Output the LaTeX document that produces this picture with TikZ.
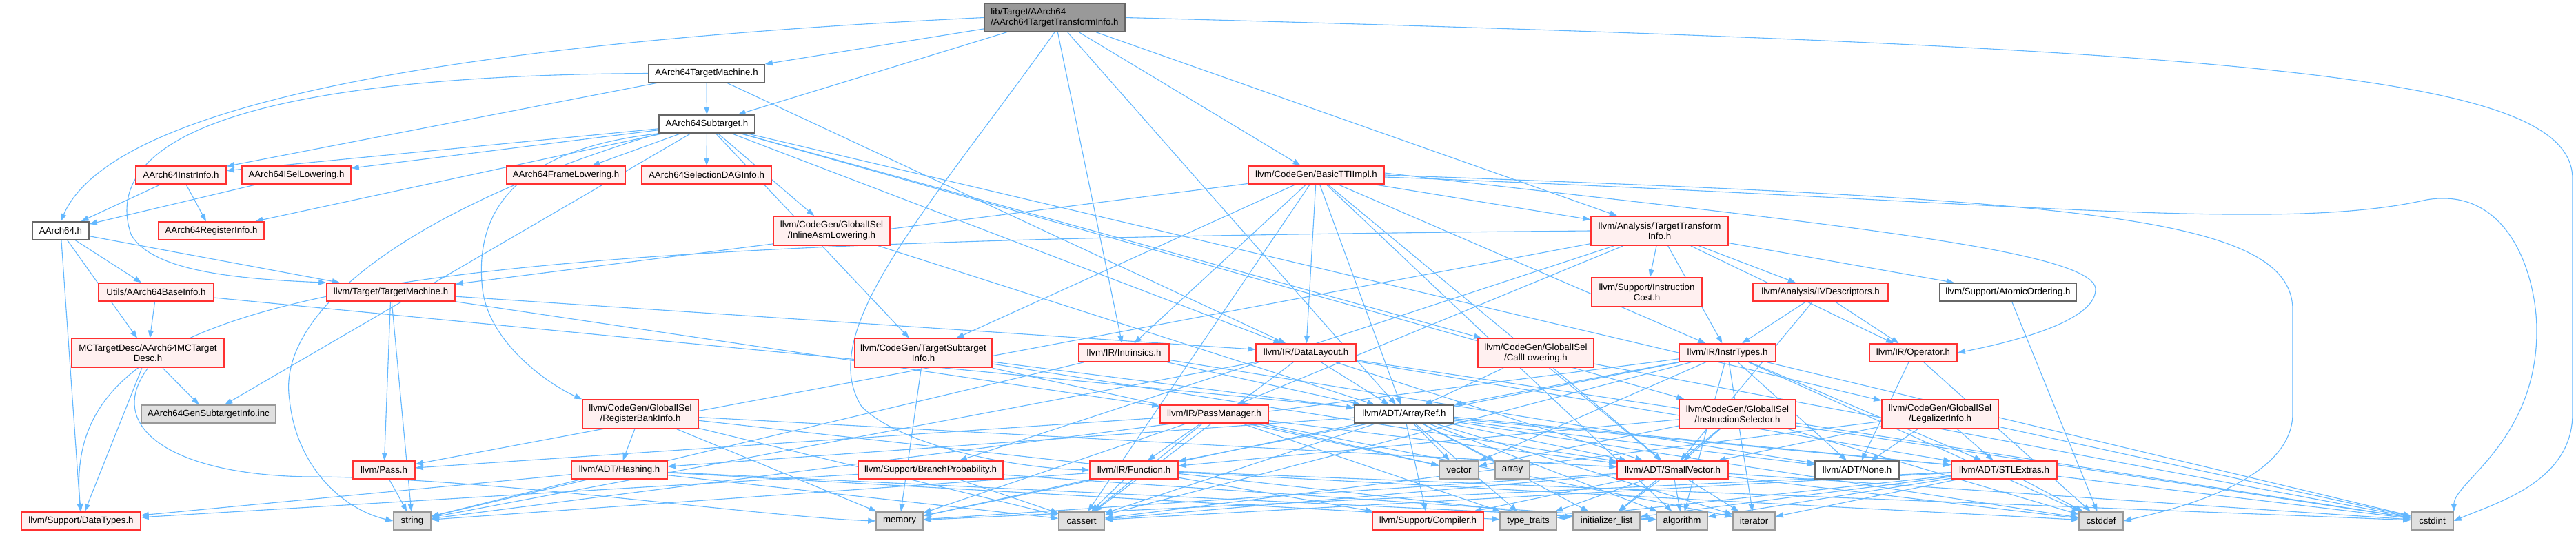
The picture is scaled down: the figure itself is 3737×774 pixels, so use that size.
\documentclass[tikz,border=0pt]{standalone}
\usepackage{fontspec}
\setmainfont{Liberation Sans}
\usetikzlibrary{arrows.meta,backgrounds}
\definecolor{edgec}{HTML}{63B8FF}
\definecolor{redb}{HTML}{FF3030}
\definecolor{redf}{HTML}{FFF0F0}
\definecolor{grayf}{HTML}{E0E0E0}
\definecolor{grayb}{HTML}{999999}
\definecolor{mainf}{HTML}{999999}
\definecolor{mainb}{HTML}{666666}
\tikzset{
 base/.style={draw, line width=1.6pt, inner sep=0pt, font=\fontsize{13.3}{15}\selectfont, align=center},
 rbox/.style={base, draw=redb, fill=redf},
 gbox/.style={base, draw=grayb, fill=grayf},
 wbox/.style={base, draw=mainb, fill=white},
 mbox/.style={base, draw=mainb, fill=mainf, align=left},
 edge/.style={draw=edgec, line width=1.1pt, -{Triangle[length=11pt,width=8pt]}},
}
\begin{document}
\begin{tikzpicture}[x=1pt,y=-1pt]
\useasboundingbox (0,0) rectangle (3737,774);
% row 0
\node[mbox, minimum width=204pt, minimum height=41pt] (main) at (1530,25.5) {lib/Target/AArch64\\/AArch64TargetTransformInfo.h};
\node[wbox, minimum width=168pt, minimum height=26pt] (tm) at (1025,106.5) {AArch64TargetMachine.h};
\node[wbox, minimum width=139pt, minimum height=26pt] (sub) at (1025.5,180) {AArch64Subtarget.h};
% row 254
\node[rbox, minimum width=131pt, minimum height=26pt] (instr) at (262.5,254) {AArch64InstrInfo.h};
\node[rbox, minimum width=158pt, minimum height=26pt] (isel) at (430,254) {AArch64ISelLowering.h};
\node[rbox, minimum width=172pt, minimum height=26pt] (frame) at (821,254) {AArch64FrameLowering.h};
\node[rbox, minimum width=188pt, minimum height=26pt] (sdag) at (1025,254) {AArch64SelectionDAGInfo.h};
\node[rbox, minimum width=197pt, minimum height=26pt] (basictti) at (1909.5,254) {llvm/CodeGen/BasicTTIImpl.h};
% row 335
\node[wbox, minimum width=82pt, minimum height=26pt] (aarch64) at (88,335) {AArch64.h};
\node[rbox, minimum width=153pt, minimum height=26pt] (reginfo) at (306.5,335) {AArch64RegisterInfo.h};
\node[rbox, minimum width=169pt, minimum height=42pt] (inlineasm) at (1206.5,335) {llvm/CodeGen/GlobalISel\\/InlineAsmLowering.h};
\node[rbox, minimum width=199pt, minimum height=42pt] (tti) at (2407.5,335) {llvm/Analysis/TargetTransform\\Info.h};
% row 424
\node[rbox, minimum width=167pt, minimum height=26pt] (baseinfo) at (226.5,424) {Utils/AArch64BaseInfo.h};
\node[rbox, minimum width=186pt, minimum height=26pt] (ttm) at (567,424) {llvm/Target/TargetMachine.h};
\node[rbox, minimum width=160pt, minimum height=42pt] (icost) at (2389,424) {llvm/Support/Instruction\\Cost.h};
\node[rbox, minimum width=196pt, minimum height=26pt] (ivdesc) at (2641,424) {llvm/Analysis/IVDescriptors.h};
\node[wbox, minimum width=198pt, minimum height=26pt] (atomic) at (2913,424) {llvm/Support/AtomicOrdering.h};
% row 512
\node[rbox, minimum width=221pt, minimum height=42pt] (mctd) at (214.5,512.5) {MCTargetDesc/AArch64MCTarget\\Desc.h};
\node[rbox, minimum width=199pt, minimum height=42pt] (tsi) at (1339.5,512.5) {llvm/CodeGen/TargetSubtarget\\Info.h};
\node[rbox, minimum width=131pt, minimum height=26pt] (intrin) at (1630.5,512) {llvm/IR/Intrinsics.h};
\node[rbox, minimum width=145pt, minimum height=26pt] (dl) at (1894.5,512) {llvm/IR/DataLayout.h};
\node[rbox, minimum width=168pt, minimum height=42pt] (calllow) at (2228,512.5) {llvm/CodeGen/GlobalISel\\/CallLowering.h};
\node[rbox, minimum width=140pt, minimum height=26pt] (instrtypes) at (2506,512) {llvm/IR/InstrTypes.h};
\node[rbox, minimum width=127pt, minimum height=26pt] (operator) at (2775.5,512) {llvm/IR/Operator.h};
% row 601
\node[gbox, minimum width=195pt, minimum height=26pt] (gensub) at (302.5,601) {AArch64GenSubtargetInfo.inc};
\node[rbox, minimum width=168pt, minimum height=42pt] (rbi) at (929,601) {llvm/CodeGen/GlobalISel\\/RegisterBankInfo.h};
\node[rbox, minimum width=157pt, minimum height=26pt] (pm) at (1761.5,601) {llvm/IR/PassManager.h};
\node[wbox, minimum width=144pt, minimum height=26pt] (arrayref) at (2037,601) {llvm/ADT/ArrayRef.h};
\node[rbox, minimum width=169pt, minimum height=42pt] (isel2) at (2520.5,601) {llvm/CodeGen/GlobalISel\\/InstructionSelector.h};
\node[rbox, minimum width=169pt, minimum height=42pt] (legal) at (2814.5,601) {llvm/CodeGen/GlobalISel\\/LegalizerInfo.h};
% row 682
\node[rbox, minimum width=90pt, minimum height=26pt] (pass) at (557,682) {llvm/Pass.h};
\node[rbox, minimum width=139pt, minimum height=26pt] (hashing) at (898.5,682) {llvm/ADT/Hashing.h};
\node[rbox, minimum width=210pt, minimum height=26pt] (bp) at (1350,682) {llvm/Support/BranchProbability.h};
\node[rbox, minimum width=128pt, minimum height=26pt] (function) at (1645,682) {llvm/IR/Function.h};
\node[gbox, minimum width=57pt, minimum height=26pt] (vector) at (2116.5,682) {vector};
\node[gbox, minimum width=50pt, minimum height=26pt] (array) at (2194,682) {array};
\node[rbox, minimum width=161pt, minimum height=26pt] (smallvec) at (2426.5,682) {llvm/ADT/SmallVector.h};
\node[wbox, minimum width=122pt, minimum height=26pt] (none) at (2694,682) {llvm/ADT/None.h};
\node[rbox, minimum width=153pt, minimum height=26pt] (stlextras) at (2907.5,682) {llvm/ADT/STLExtras.h};
% row 756
\node[rbox, minimum width=173pt, minimum height=26pt] (datatypes) at (117.5,756) {llvm/Support/DataTypes.h};
\node[gbox, minimum width=54pt, minimum height=26pt] (string) at (598,756) {string};
\node[gbox, minimum width=68pt, minimum height=26pt] (memory) at (1305,756) {memory};
\node[gbox, minimum width=66pt, minimum height=26pt] (cassert) at (1569,756) {cassert};
\node[rbox, minimum width=161pt, minimum height=26pt] (compiler) at (2071.5,756) {llvm/Support/Compiler.h};
\node[gbox, minimum width=82pt, minimum height=26pt] (typetraits) at (2217,756) {type\_traits};
\node[gbox, minimum width=97pt, minimum height=26pt] (initlist) at (2330.5,756) {initializer\_list};
\node[gbox, minimum width=74pt, minimum height=26pt] (algorithm) at (2440,756) {algorithm};
\node[gbox, minimum width=61pt, minimum height=26pt] (iterator) at (2544.5,756) {iterator};
\node[gbox, minimum width=64pt, minimum height=26pt] (cstddef) at (3048,756) {cstddef};
\node[gbox, minimum width=61pt, minimum height=26pt] (cstdint) at (3528.5,756) {cstdint};

\begin{pgfonlayer}{background}
\fill[white] (0,0) rectangle (3737,774);
\foreach \a/\b in {main/sub, main/tm, main/arrayref, main/tti, main/basictti, main/intrin,
 tm/instr, tm/sub, tm/dl,
 sub/frame, sub/isel, sub/instr, sub/reginfo, sub/sdag, sub/calllow, sub/inlineasm, sub/isel2, sub/legal, sub/tsi, sub/dl, sub/gensub,
 instr/aarch64, instr/reginfo, isel/aarch64,
 aarch64/datatypes, aarch64/mctd, aarch64/baseinfo, aarch64/ttm,
 baseinfo/mctd, baseinfo/stlextras,
 mctd/datatypes, mctd/gensub,
 ttm/dl, ttm/pm, ttm/pass, ttm/string,
 pass/string,
 rbi/hashing, rbi/smallvec, rbi/cassert, rbi/initlist, rbi/memory,
 hashing/datatypes, hashing/string, hashing/cassert, hashing/algorithm, hashing/typetraits,
 bp/datatypes, bp/algorithm, bp/cassert,
 function/memory, function/cassert, function/compiler, function/cstddef, function/cstdint, function/string,
 pm/function, pm/cassert, pm/smallvec, pm/memory, pm/vector, pm/iterator, pm/typetraits, pm/pass,
 intrin/arrayref, intrin/none, intrin/string,
 instrtypes/arrayref, instrtypes/none, instrtypes/stlextras, instrtypes/function, instrtypes/algorithm, instrtypes/cassert, instrtypes/cstddef, instrtypes/cstdint, instrtypes/iterator, instrtypes/string, instrtypes/vector,
 operator/none, operator/cstddef,
 ivdesc/smallvec, ivdesc/instrtypes, ivdesc/operator,
 atomic/cstddef,
 tti/ivdesc, tti/instrtypes, tti/pm, tti/pass, tti/atomic, tti/bp, tti/icost, tti/operator,
 basictti/arrayref, basictti/smallvec, basictti/tti, basictti/tsi, basictti/dl, basictti/instrtypes, basictti/intrin, basictti/ttm, basictti/algorithm, basictti/cassert,
 inlineasm/arrayref,
 calllow/arrayref, calllow/smallvec, calllow/cstdint,
 dl/arrayref, dl/stlextras, dl/smallvec, dl/cassert, dl/cstdint, dl/string,
 tsi/arrayref, tsi/smallvec, tsi/memory, tsi/vector,
 isel2/smallvec, isel2/function, isel2/cstddef, isel2/cstdint, isel2/initlist, isel2/vector,
 legal/stlextras, legal/smallvec, legal/none, legal/cassert, legal/cstdint,
 arrayref/hashing, arrayref/none, arrayref/stlextras, arrayref/smallvec, arrayref/compiler, arrayref/algorithm, arrayref/array, arrayref/cassert, arrayref/cstddef, arrayref/initlist, arrayref/iterator, arrayref/memory, arrayref/typetraits, arrayref/vector,
 smallvec/compiler, smallvec/algorithm, smallvec/cassert, smallvec/cstddef, smallvec/cstdint, smallvec/initlist, smallvec/iterator, smallvec/memory, smallvec/typetraits,
 stlextras/algorithm, stlextras/cassert, stlextras/cstddef, stlextras/cstdint, stlextras/initlist, stlextras/iterator, stlextras/memory, stlextras/typetraits}
 \draw[edge] (\a) -- (\b);
% curved connectors
\draw[edge] (main.west) .. controls (500,70) and (150,180) .. (aarch64.north);
\draw[edge] (main.east) .. controls (3300,70) and (3732,110) .. (3732,260) -- (3732,600) .. controls (3732,700) and (3620,730) .. (cstdint.east);
\draw[edge] (tm.west) .. controls (300,110) and (150,220) .. (190,340) .. controls (220,395) and (350,405) .. (ttm.north west);
\draw[edge] (mctd.south) .. controls (150,620) and (250,690) .. (450,692) .. controls (700,692) and (1100,750) .. (memory.west);
\draw[edge] (tti.west) .. controls (600,350) and (80,400) .. (datatypes.north);
\draw[edge] ([yshift=-3pt]basictti.east) .. controls (2900,290) and (3300,340) .. (3520,290) .. controls (3640,270) and (3680,400) .. (3680,480) .. controls (3680,640) and (3560,700) .. (cstdint.north east);
\draw[edge] (basictti.east) .. controls (3000,290) and (3326,310) .. (3326,450) -- (3326,600) .. controls (3326,700) and (3150,740) .. (cstddef.east);
\draw[edge] ([yshift=3pt]basictti.east) .. controls (2600,320) and (3040,360) .. (3040,420) .. controls (3040,470) and (2900,500) .. (operator.east);
\draw[edge] (main.south) .. controls (1350,300) and (1180,480) .. (1250,590) .. controls (1310,650) and (1480,680) .. (function.west);
\draw[edge] (sub.south west) .. controls (600,300) and (400,450) .. (420,580) .. controls (430,680) and (500,740) .. (string.west);
\draw[edge] (sub.south west) .. controls (720,220) and (690,330) .. (700,420) .. controls (710,500) and (800,560) .. (rbi.north west);
\end{pgfonlayer}
\end{tikzpicture}
\end{document}
